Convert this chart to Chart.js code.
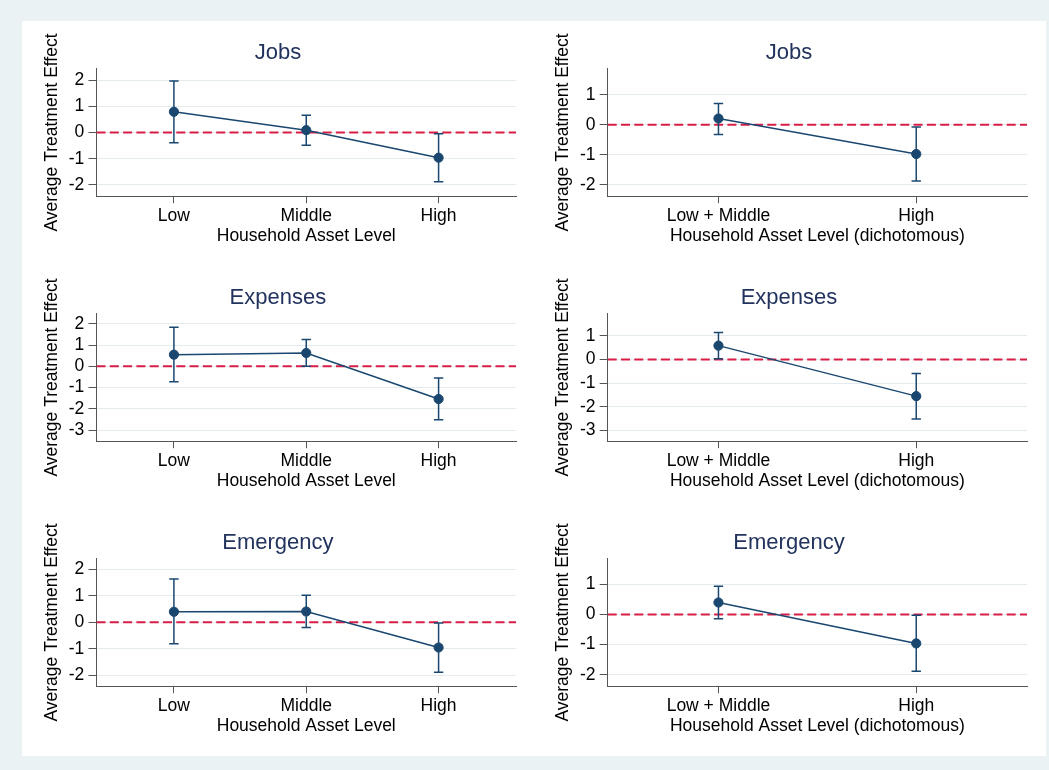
<!DOCTYPE html>
<html>
<head>
<meta charset="utf-8">
<script src="https://cdn.jsdelivr.net/npm/chart.js@4.4.1/dist/chart.umd.min.js"></script>
<style>
  html, body { margin: 0; padding: 0; background: #eaf2f3; width: 1049px; height: 770px; overflow: hidden; }
  #panel { position: absolute; left: 22px; top: 21px; width: 1024px; height: 735px; background: #ffffff; }
  canvas { position: absolute; }
</style>
</head>
<body>
<div id="panel"></div>
<canvas id="c1"></canvas>
<canvas id="c2"></canvas>
<canvas id="c3"></canvas>
<canvas id="c4"></canvas>
<canvas id="c5"></canvas>
<canvas id="c6"></canvas>
<script>
// ---------------- DATA ----------------
const levels3 = ["Low", "Middle", "High"];
const levels2 = ["Low + Middle", "High"];
const xTitle3 = "Household Asset Level";
const xTitle2 = "Household Asset Level (dichotomous)";
const yTitle = "Average Treatment Effect";

const jobsTitle = "Jobs";
const expTitle = "Expenses";
const emgTitle = "Emergency";

// Jobs, three levels
const jobs3Est = [0.79, 0.09, -0.96];
const jobs3Lo  = [-0.39, -0.49, -1.88];
const jobs3Hi  = [1.97, 0.66, -0.05];
const jobs3Ticks = [-2, -1, 0, 1, 2];
const jobs3Range = [-2.45, 2.45];

// Jobs, dichotomous
const jobs2Est = [0.21, -0.97];
const jobs2Lo  = [-0.32, -1.87];
const jobs2Hi  = [0.71, -0.07];
const jobs2Ticks = [-2, -1, 0, 1];
const jobs2Range = [-2.39, 1.88];

// Expenses, three levels
const exp3Est = [0.55, 0.63, -1.54];
const exp3Lo  = [-0.72, 0.01, -2.51];
const exp3Hi  = [1.84, 1.27, -0.55];
const exp3Ticks = [-3, -2, -1, 0, 1, 2];
const exp3Range = [-3.55, 2.50];

// Expenses, dichotomous
const exp2Est = [0.59, -1.55];
const exp2Lo  = [0.03, -2.52];
const exp2Hi  = [1.15, -0.59];
const exp2Ticks = [-3, -2, -1, 0, 1];
const exp2Range = [-3.48, 1.96];

// Emergency, three levels
const emg3Est = [0.40, 0.41, -0.95];
const emg3Lo  = [-0.81, -0.19, -1.88];
const emg3Hi  = [1.64, 1.02, -0.02];
const emg3Ticks = [-2, -1, 0, 1, 2];
const emg3Range = [-2.43, 2.42];

// Emergency, dichotomous
const emg2Est = [0.40, -0.96];
const emg2Lo  = [-0.14, -1.89];
const emg2Hi  = [0.94, -0.02];
const emg2Ticks = [-2, -1, 0, 1];
const emg2Range = [-2.40, 1.87];

// ---------------- STYLE / LAYOUT ----------------
const FONT = "'Liberation Sans', Arial, Helvetica, sans-serif";
const NAVY = '#1a476f';
const RED = '#d81e47';
const TITLE_COLOR = '#22335e';
const AXIS_COLOR = '#555555';
const GRID_COLOR = '#e3ebee';

const ROW_TOP = [21, 266, 511];
const ROW_H = 245;
const COLS = [
  { left: 22, width: 511, padL: 17.8, padR: 17, xMinMax: [0.415, 3.585] },
  { left: 533, width: 513, padL: 18, padR: 19, xMinMax: [0.44, 2.56] }
];

function makePanel(id, row, col, title, cats, xTitle, est, lo, hi, ticks, range) {
  const c = COLS[col];
  const cv = document.getElementById(id);
  cv.width = c.width; cv.height = ROW_H;
  cv.style.left = c.left + 'px';
  cv.style.top = ROW_TOP[row] + 'px';
  cv.style.width = c.width + 'px';
  cv.style.height = ROW_H + 'px';

  const xs = cats.map((_, i) => i + 1);
  const datasets = [];
  // reference line at zero
  datasets.push({
    data: [{ x: c.xMinMax[0], y: 0 }, { x: c.xMinMax[1], y: 0 }],
    borderColor: RED, borderWidth: 2, borderDash: [9, 4.3],
    pointRadius: 0, order: 3
  });
  // confidence intervals
  xs.forEach((x, i) => {
    datasets.push({
      data: [{ x: x, y: lo[i] }, { x: x, y: hi[i] }],
      borderColor: NAVY, borderWidth: 1.5,
      pointStyle: 'line', pointRadius: 4.7, pointBorderWidth: 1.5,
      pointBorderColor: NAVY, order: 2
    });
  });
  // point estimates
  datasets.push({
    data: xs.map((x, i) => ({ x: x, y: est[i] })),
    borderColor: NAVY, borderWidth: 1.5,
    pointStyle: 'circle', pointRadius: 4.6, pointBorderWidth: 1,
    pointBackgroundColor: NAVY, pointBorderColor: NAVY, order: 1
  });

  const axFont = { family: FONT, size: 17.5 };
  new Chart(cv, {
    type: 'line',
    data: { datasets: datasets },
    options: {
      responsive: false, animation: false, devicePixelRatio: 1,
      layout: { padding: { left: c.padL, right: c.padR, top: 0, bottom: 0 } },
      plugins: {
        legend: { display: false },
        tooltip: { enabled: false },
        title: {
          display: true, text: title, color: TITLE_COLOR,
          font: { family: FONT, size: 22, weight: 'normal' },
          padding: { top: 18.8, bottom: 2.1 }
        }
      },
      scales: {
        x: {
          type: 'linear', min: c.xMinMax[0], max: c.xMinMax[1],
          afterBuildTicks: s => { s.ticks = xs.map(v => ({ value: v })); },
          afterFit: s => { s.height = 69.3; },
          ticks: {
            callback: v => cats[Math.round(v) - 1],
            font: axFont, color: '#000', padding: 2.3,
            autoSkip: false, maxRotation: 0, minRotation: 0
          },
          grid: { drawOnChartArea: false, tickLength: 6.5, tickColor: AXIS_COLOR, tickWidth: 1 },
          border: { color: AXIS_COLOR, width: 1 },
          title: { display: true, text: xTitle, color: '#000', font: axFont, padding: { top: 0, bottom: 19.5 } }
        },
        y: {
          type: 'linear', min: range[0], max: range[1],
          afterBuildTicks: s => { s.ticks = ticks.map(v => ({ value: v })); },
          afterFit: s => { s.width = 56.7; },
          ticks: { callback: v => String(v), font: axFont, color: '#000', padding: 4.2 },
          grid: { color: GRID_COLOR, lineWidth: 1, tickLength: 8, tickColor: AXIS_COLOR, tickWidth: 1 },
          border: { color: AXIS_COLOR, width: 1 },
          title: { display: true, text: yTitle, color: '#000', font: axFont, padding: { top: 1.8, bottom: 0 } }
        }
      }
    }
  });
}

makePanel('c1', 0, 0, jobsTitle, levels3, xTitle3, jobs3Est, jobs3Lo, jobs3Hi, jobs3Ticks, jobs3Range);
makePanel('c2', 0, 1, jobsTitle, levels2, xTitle2, jobs2Est, jobs2Lo, jobs2Hi, jobs2Ticks, jobs2Range);
makePanel('c3', 1, 0, expTitle, levels3, xTitle3, exp3Est, exp3Lo, exp3Hi, exp3Ticks, exp3Range);
makePanel('c4', 1, 1, expTitle, levels2, xTitle2, exp2Est, exp2Lo, exp2Hi, exp2Ticks, exp2Range);
makePanel('c5', 2, 0, emgTitle, levels3, xTitle3, emg3Est, emg3Lo, emg3Hi, emg3Ticks, emg3Range);
makePanel('c6', 2, 1, emgTitle, levels2, xTitle2, emg2Est, emg2Lo, emg2Hi, emg2Ticks, emg2Range);
</script>
</body>
</html>
